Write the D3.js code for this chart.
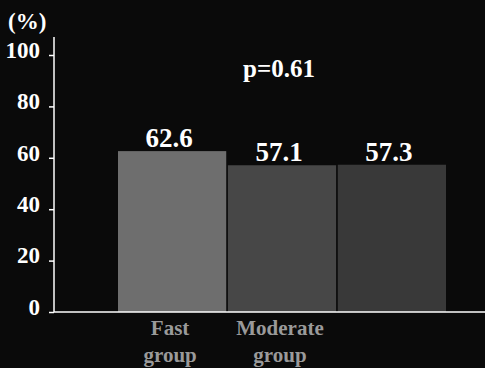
<!DOCTYPE html>
<html>
<head>
<meta charset="utf-8">
<script src="https://cdn.jsdelivr.net/npm/d3@7"></script>
<style>
  body { margin: 0; background: #0a0a0a; }
  svg { display: block; }
  text { font-family: "Liberation Serif", "DejaVu Serif", serif; font-weight: bold; }
</style>
</head>
<body>
<div id="chart"></div>
<script>
// data
const groups = ["Fast group", "Moderate group", ""];
const rates = [62.6, 57.1, 57.3];
const barColors = ["#6e6e6e", "#474747", "#393939"];
const yTicks = [0, 20, 40, 60, 80, 100];
const pValue = "p=0.61";

const width = 485, height = 368;
const margin = { top: 37, right: 0, bottom: 56, left: 54 };

const svg = d3.select('#chart')
  .append('svg')
  .attr('width', width)
  .attr('height', height);

svg.append('rect').attr('width', width).attr('height', height).attr('fill', '#0a0a0a');

// scales
const x = d3.scaleBand()
  .domain(groups)
  .range([118, 446])
  .paddingInner(0.015);

const y = d3.scaleLinear()
  .domain([0, 100])
  .range([height - margin.bottom, 55]);

// bars
svg.selectAll('.bar')
  .data(rates)
  .join('rect')
  .attr('class', 'bar')
  .attr('x', (d, i) => x(groups[i]))
  .attr('y', d => y(d))
  .attr('width', x.bandwidth())
  .attr('height', d => y(0) - y(d))
  .attr('fill', (d, i) => barColors[i]);

// value labels
svg.selectAll('.val')
  .data(rates)
  .join('text')
  .attr('class', 'val')
  .attr('x', (d, i) => x(groups[i]) + x.bandwidth() / 2 - 3)
  .attr('y', d => y(d) - 4)
  .attr('text-anchor', 'middle')
  .attr('fill', '#fff')
  .style('font-size', '27px')
  .text(d => d.toFixed(1));

// y axis
const yAxis = d3.axisLeft(y).tickValues(yTicks).tickSize(5).tickPadding(9);
const gy = svg.append('g')
  .attr('transform', `translate(${margin.left},0)`)
  .call(yAxis);
gy.select('.domain').remove();
gy.selectAll('line').attr('stroke', '#fff').attr('stroke-width', 1.5);
gy.selectAll('text')
  .attr('fill', '#fff')
  .attr('dy', '0.1em')
  .style('font-size', '23px');

svg.append('line')
  .attr('x1', margin.left).attr('x2', margin.left)
  .attr('y1', margin.top).attr('y2', y(0))
  .attr('stroke', '#fff').attr('stroke-width', 1.5);

// x axis
const xAxis = d3.axisBottom(x).tickSize(0).tickPadding(0);
const gx = svg.append('g')
  .attr('transform', `translate(0,${y(0)})`)
  .call(xAxis);
gx.select('.domain').remove();
gx.selectAll('text').each(function(d) {
  const t = d3.select(this).text('');
  const words = d.split(' ');
  words.forEach((w, i) => {
    t.append('tspan').attr('x', -2).attr('y', 23 + i * 27).attr('dy', 0).text(w);
  });
})
  .attr('fill', '#9a9a9a')
  .style('font-size', '21px');

svg.append('line')
  .attr('x1', margin.left).attr('x2', width)
  .attr('y1', y(0)).attr('y2', y(0))
  .attr('stroke', '#fff').attr('stroke-width', 1.5);

// unit label
svg.append('text')
  .attr('x', 8).attr('y', 29)
  .attr('fill', '#fff')
  .style('font-size', '23px')
  .text('(%)');

// p value
svg.append('text')
  .attr('x', 279).attr('y', 77)
  .attr('text-anchor', 'middle')
  .attr('fill', '#fff')
  .style('font-size', '25px')
  .text(pValue);
</script>
</body>
</html>
